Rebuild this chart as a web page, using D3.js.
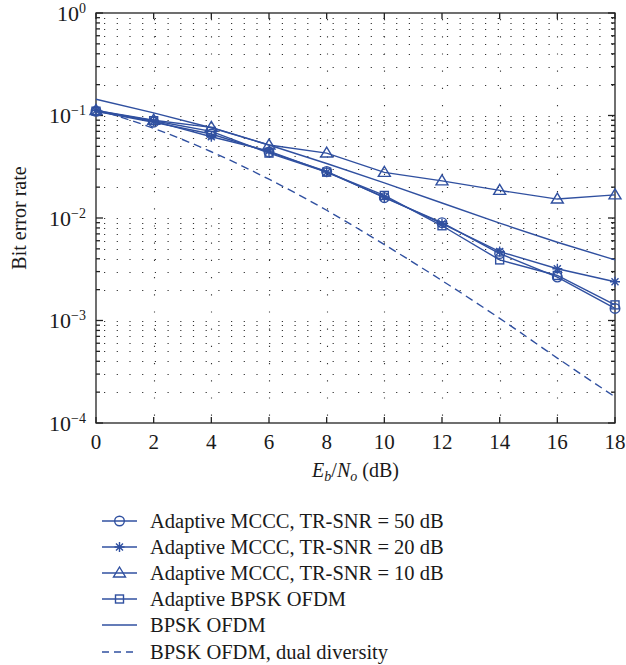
<!DOCTYPE html>
<meta charset="utf-8">
<script src="https://d3js.org/d3.v7.min.js"></script>
<html>
<head>
<style>
body { margin: 0; background: white; }
text { font-family: "Liberation Serif", "Times New Roman", serif; fill: #1a1a1a; }
</style>
</head>
<body>
<div id="my_dataviz"></div>
<script>

// data
var snr = [0, 2, 4, 6, 8, 10, 12, 14, 16, 18];
var mccc50 = [0.110, 0.086, 0.066, 0.044, 0.0285, 0.0158, 0.0090, 0.0045, 0.00265, 0.00131];
var mccc20 = [0.112, 0.088, 0.062, 0.045, 0.0280, 0.0160, 0.0088, 0.0047, 0.0032, 0.00239];
var mccc10 = [0.112, 0.090, 0.0765, 0.0515, 0.0430, 0.0279, 0.0230, 0.0186, 0.0153, 0.0168];
var adaptBpsk = [0.110, 0.089, 0.070, 0.043, 0.0280, 0.0166, 0.0084, 0.0039, 0.00275, 0.00142];
var bpsk = [0.144, 0.106, 0.0760, 0.0515, 0.0340, 0.0220, 0.0140, 0.0089, 0.0058, 0.0039];
var bpskDual = [0.115, 0.075, 0.0443, 0.0239, 0.0119, 0.0055, 0.00245, 0.00105, 0.00043, 0.00018];
var xTicks = [0, 2, 4, 6, 8, 10, 12, 14, 16, 18];
var yExps = [0, -1, -2, -3, -4];
var legendLabels = ["Adaptive MCCC, TR-SNR = 50 dB", "Adaptive MCCC, TR-SNR = 20 dB",
  "Adaptive MCCC, TR-SNR = 10 dB", "Adaptive BPSK OFDM", "BPSK OFDM", "BPSK OFDM, dual diversity"];

var blue = "#3050a0";
var W = 626, H = 665;
var plot = {left: 96, right: 615, top: 13, bottom: 423};

var svg = d3.select("#my_dataviz")
  .append("svg")
    .attr("width", W)
    .attr("height", H);

var x = d3.scaleLinear().domain([0, 18]).range([plot.left, plot.right]);
var y = d3.scaleLog().domain([1e-4, 1]).range([plot.bottom, plot.top]);

// minor log values
var minors = [];
for (var e = -4; e < 0; e++) {
  for (var k = 1; k <= 9; k++) minors.push(k * Math.pow(10, e));
}
minors.push(1);

// dotted grid
var grid = svg.append("g").attr("stroke", "#333").attr("stroke-width", 1.1)
  .attr("stroke-dasharray", "1.2,11.5");
grid.selectAll(".hg").data(minors.filter(function(v) { return v > 1e-4 && v < 1; }))
  .enter().append("line")
    .attr("x1", plot.left + 8).attr("x2", plot.right)
    .attr("y1", function(d) { return Math.round(y(d)) + 0.5; })
    .attr("y2", function(d) { return Math.round(y(d)) + 0.5; });
grid.selectAll(".vg").data(xTicks.filter(function(d) { return d > 0 && d < 18; }))
  .enter().append("line")
    .attr("y1", plot.top + 6).attr("y2", plot.bottom)
    .attr("x1", function(d) { return Math.round(x(d)) + 0.5; })
    .attr("x2", function(d) { return Math.round(x(d)) + 0.5; })
    .attr("stroke-dasharray", "1.2,16");

// box and ticks
var ax = svg.append("g").attr("stroke", "#222").attr("stroke-width", 1.3);
ax.append("rect")
  .attr("x", plot.left).attr("y", plot.top)
  .attr("width", plot.right - plot.left).attr("height", plot.bottom - plot.top)
  .attr("fill", "none");
minors.forEach(function(v) {
  var len = Math.abs(Math.log10(v) - Math.round(Math.log10(v))) < 1e-9 ? 7 : 4;
  var yy = y(v);
  ax.append("line").attr("x1", plot.left).attr("x2", plot.left + len).attr("y1", yy).attr("y2", yy);
  ax.append("line").attr("x1", plot.right).attr("x2", plot.right - len).attr("y1", yy).attr("y2", yy);
});
xTicks.forEach(function(t) {
  ax.append("line").attr("x1", x(t)).attr("x2", x(t)).attr("y1", plot.bottom).attr("y2", plot.bottom - 6);
  ax.append("line").attr("x1", x(t)).attr("x2", x(t)).attr("y1", plot.top).attr("y2", plot.top + 6);
});

// tick labels
svg.append("g").selectAll("text").data(xTicks).enter().append("text")
  .attr("x", function(d) { return x(d); })
  .attr("y", 449)
  .attr("text-anchor", "middle")
  .style("font-size", "21px")
  .text(function(d) { return d; });

var yl = svg.append("g").selectAll("text").data(yExps).enter().append("text")
  .attr("x", 86)
  .attr("y", function(d) { return y(Math.pow(10, d)) + 7.5; })
  .attr("text-anchor", "end")
  .style("font-size", "22px");
yl.append("tspan").text("10");
yl.append("tspan").attr("dy", -8).style("font-size", "14px")
  .text(function(d) { return d === 0 ? "0" : "\u2212" + (-d); });

// axis labels
var xl = svg.append("text")
  .attr("x", (plot.left + plot.right) / 2)
  .attr("y", 477)
  .attr("text-anchor", "middle")
  .style("font-size", "20px");
xl.append("tspan").style("font-style", "italic").text("E");
xl.append("tspan").style("font-style", "italic").style("font-size", "14px").attr("dy", 4).text("b");
xl.append("tspan").attr("dy", -4).text("/");
xl.append("tspan").style("font-style", "italic").text("N");
xl.append("tspan").style("font-style", "italic").style("font-size", "14px").attr("dy", 4).text("o");
xl.append("tspan").attr("dy", -4).text(" (dB)");

svg.append("text")
  .attr("transform", "translate(26," + ((plot.top + plot.bottom) / 2) + ") rotate(-90)")
  .attr("text-anchor", "middle")
  .style("font-size", "20px")
  .text("Bit error rate");

// marker drawing
function drawMarker(g, type, cx, cy) {
  if (type === "circle") {
    g.append("circle").attr("cx", cx).attr("cy", cy).attr("r", 4.8);
  } else if (type === "star") {
    var s = 5;
    g.append("path").attr("d",
      "M" + (cx - s) + "," + cy + "H" + (cx + s) +
      "M" + cx + "," + (cy - s) + "V" + (cy + s) +
      "M" + (cx - s * 0.7) + "," + (cy - s * 0.7) + "L" + (cx + s * 0.7) + "," + (cy + s * 0.7) +
      "M" + (cx - s * 0.7) + "," + (cy + s * 0.7) + "L" + (cx + s * 0.7) + "," + (cy - s * 0.7));
  } else if (type === "triangle") {
    g.append("path").attr("d",
      "M" + cx + "," + (cy - 6) + "L" + (cx + 6) + "," + (cy + 4) + "L" + (cx - 6) + "," + (cy + 4) + "Z");
  } else if (type === "square") {
    g.append("rect").attr("x", cx - 4).attr("y", cy - 4).attr("width", 8).attr("height", 8);
  }
}

var series = [
  {values: mccc50, marker: "circle", dash: null},
  {values: mccc20, marker: "star", dash: null},
  {values: mccc10, marker: "triangle", dash: null},
  {values: adaptBpsk, marker: "square", dash: null},
  {values: bpsk, marker: null, dash: null},
  {values: bpskDual, marker: null, dash: "8,5"}
];

var line = d3.line()
  .x(function(d, i) { return x(snr[i]); })
  .y(function(d) { return y(d); });
var smooth = d3.line()
  .curve(d3.curveMonotoneX)
  .x(function(d, i) { return x(snr[i]); })
  .y(function(d) { return y(d); });

series.forEach(function(s) {
  var g = svg.append("g").attr("stroke", blue).attr("stroke-width", 1.4).attr("fill", "none");
  g.append("path")
    .datum(s.values)
    .attr("d", s.dash ? smooth : line)
    .attr("stroke-dasharray", s.dash);
  if (s.marker) {
    s.values.forEach(function(v, i) { drawMarker(g, s.marker, x(snr[i]), y(v)); });
  }
});

// legend
var rowY = [521, 547, 573, 599, 625, 652];
legendLabels.forEach(function(lab, i) {
  var g = svg.append("g");
  var s = series[i];
  var gl = g.append("g").attr("stroke", blue).attr("stroke-width", 1.4).attr("fill", "none");
  gl.append("line").attr("x1", 102).attr("x2", 137).attr("y1", rowY[i]).attr("y2", rowY[i])
    .attr("stroke-dasharray", s.dash ? "7,5" : null);
  if (s.marker) drawMarker(gl, s.marker, 119.5, rowY[i]);
  g.append("text")
    .attr("x", 150)
    .attr("y", rowY[i] + 7)
    .style("font-size", "20.5px")
    .text(lab);
});

</script>
</body>
</html>
